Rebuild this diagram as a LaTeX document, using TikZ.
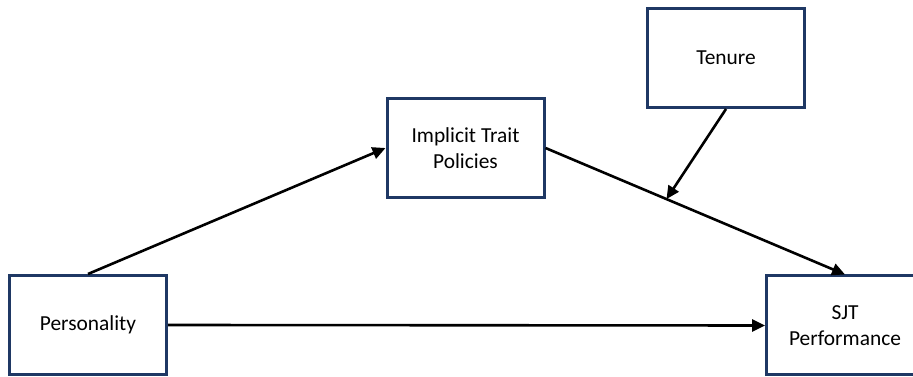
\documentclass[tikz,border=0pt]{standalone}
\usepackage{fontspec}
\setmainfont{Carlito}
\usetikzlibrary{positioning, arrows.meta, calc}
\definecolor{boxnavy}{HTML}{1F3864}

\begin{document}
\begin{tikzpicture}[
    x=1pt, y=1pt,
    >={Triangle[length=13pt, width=12pt]},
    % Styles for nodes
    varbox/.style={draw=boxnavy, fill=white, rectangle, line width=3pt, minimum width=157pt, minimum height=99pt, align=center, inner sep=0pt, font=\fontsize{21.4}{25.5}\selectfont},
    link/.style={->, line width=2.6pt, draw=black}
]
    % Page frame
    \useasboundingbox (0,0) rectangle (913,377);

    % Boxes
    \node (pers) [varbox] at (88,52) {Personality};
    \node (itp) [varbox] at (465.5,229) {Implicit Trait\\Policies};
    \node (ten) [varbox] at (726,319) {Tenure};
    \node (sjt) [varbox] at (845,51.5) {SJT\\Performance};

    % Arrows
    \draw [link] (pers.north) -- (itp.west);
    \draw [link] (itp.east) -- (sjt.north) coordinate[pos=0.404] (mod);
    \draw [link] (ten.south) -- (mod);
    \draw [link] (pers.east) -- (sjt.west);

\end{tikzpicture}
\end{document}
